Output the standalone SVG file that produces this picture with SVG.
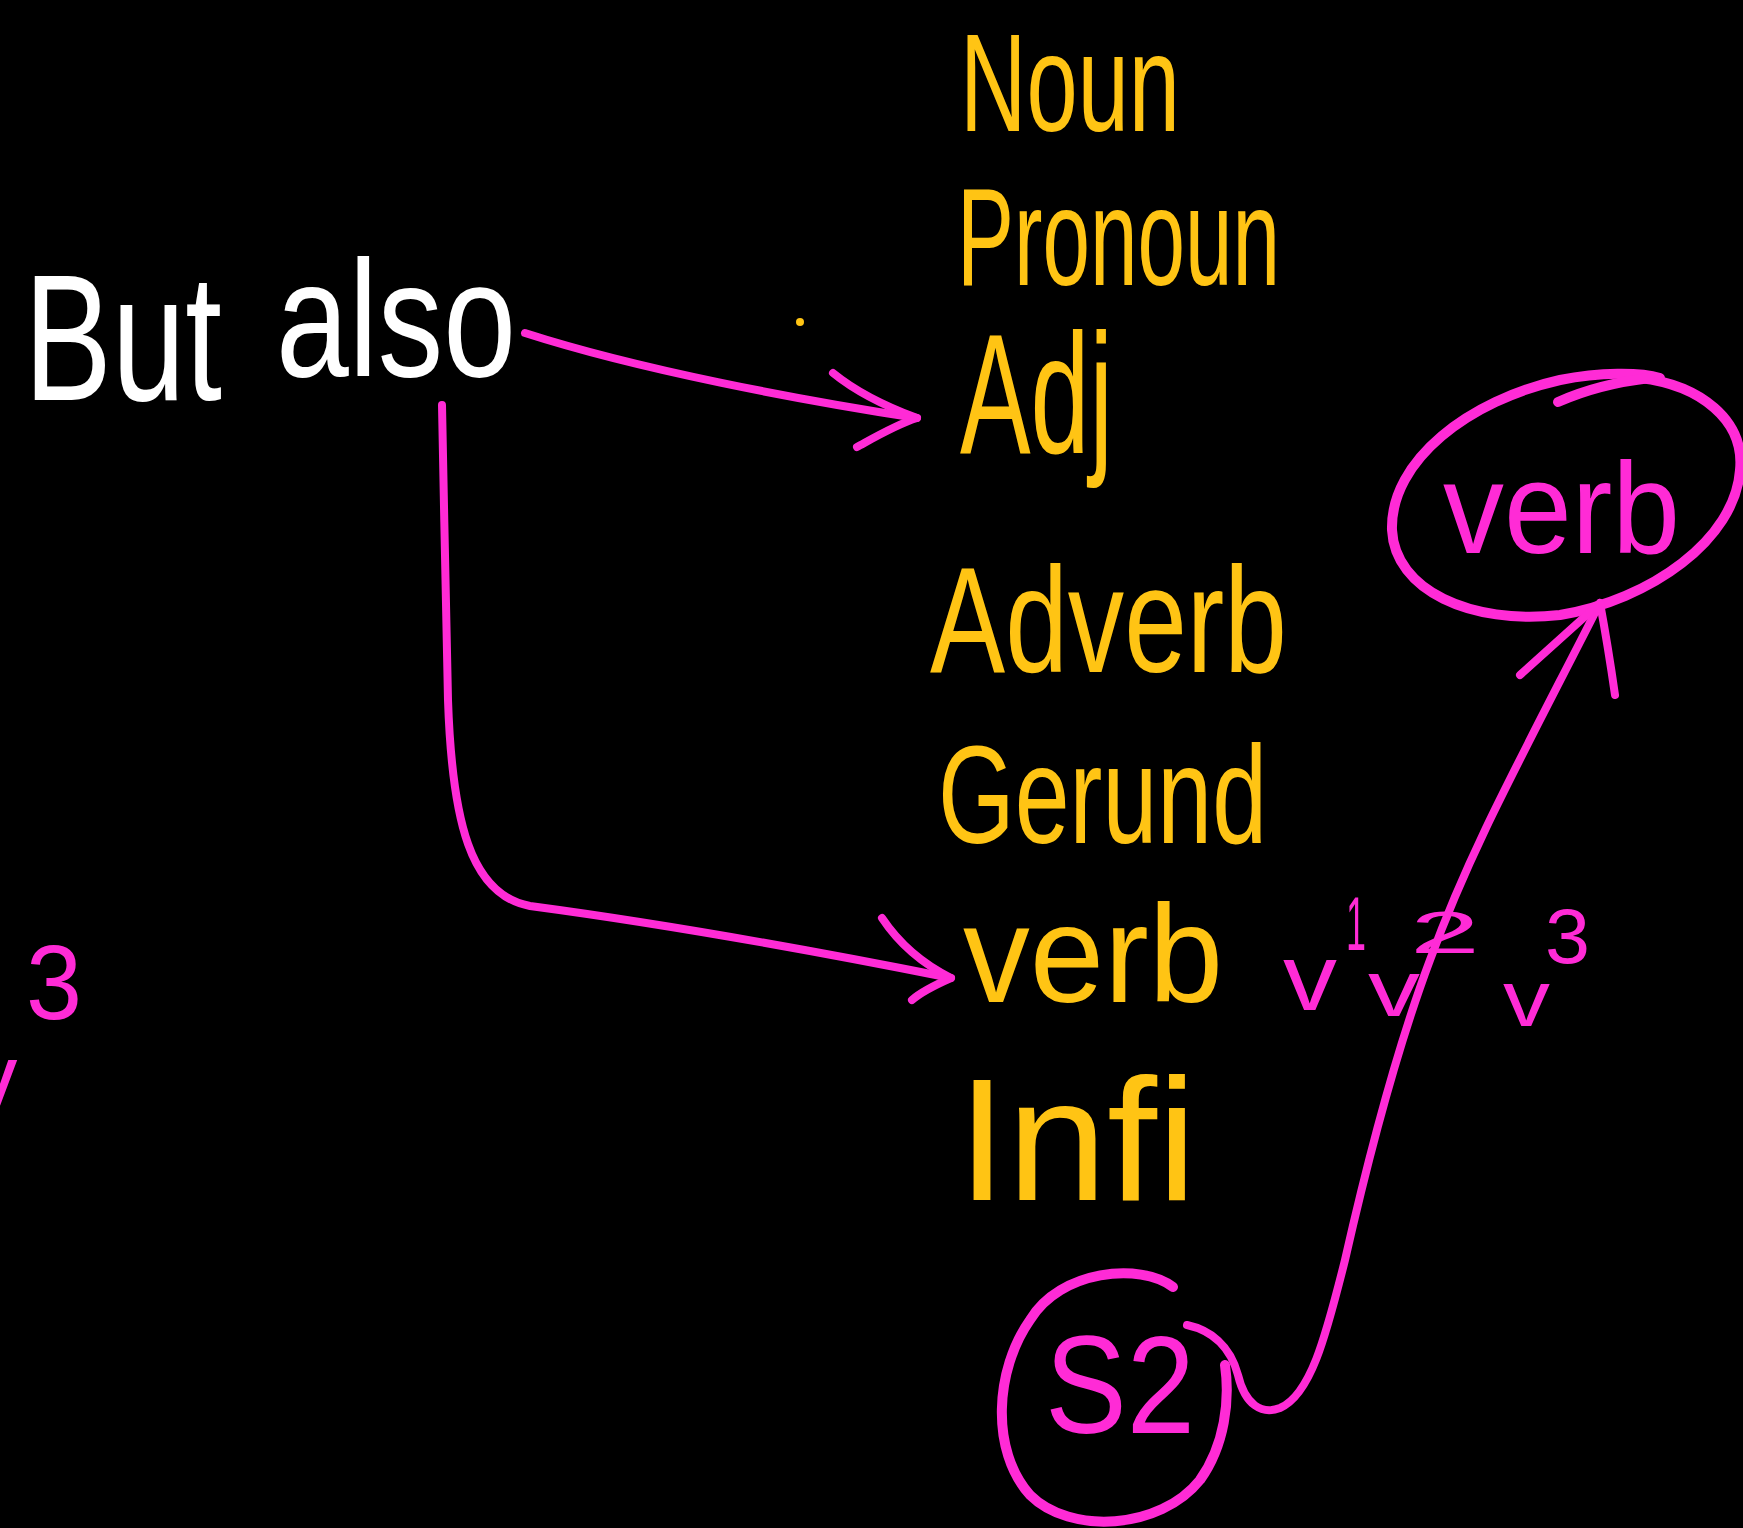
<svg xmlns="http://www.w3.org/2000/svg" width="1743" height="1528" viewBox="0 0 1743 1528">
<style>
text{font-family:"Liberation Sans","DejaVu Sans",sans-serif;}
.yel{fill:#ffc414;}
.mag{fill:#ff2bd6;}
.wht{fill:#ffffff;}
.conn{fill:none;stroke:#ff2bd6;stroke-width:8;stroke-linecap:round;stroke-linejoin:round;}
.ring{fill:none;stroke:#ff2bd6;stroke-width:10;stroke-linecap:round;}
</style>
<rect width="1743" height="1528" fill="#000"/>

<g id="but-also">
<text class="wht" x="24" y="400" font-size="180" textLength="198" lengthAdjust="spacingAndGlyphs">But</text>
<text class="wht" x="276" y="376" font-size="165" textLength="240" lengthAdjust="spacingAndGlyphs">also</text>
</g>

<g id="noun"><text class="yel" x="960" y="131" font-size="140" textLength="220" lengthAdjust="spacingAndGlyphs">Noun</text></g>
<g id="pronoun"><text class="yel" x="957" y="285" font-size="140" textLength="323" lengthAdjust="spacingAndGlyphs">Pronoun</text></g>
<g id="adj"><text class="yel" x="960" y="453" font-size="170" textLength="153" lengthAdjust="spacingAndGlyphs">Adj</text></g>
<g id="adverb"><text class="yel" x="930" y="672" font-size="150" textLength="357" lengthAdjust="spacingAndGlyphs">Adverb</text></g>
<g id="gerund"><text class="yel" x="938" y="843" font-size="140" textLength="329" lengthAdjust="spacingAndGlyphs">Gerund</text></g>
<g id="verb"><text class="yel" x="963" y="1002" font-size="140" textLength="260" lengthAdjust="spacingAndGlyphs">verb</text></g>
<g id="infi"><text class="yel" x="957" y="1200" font-size="175" textLength="240" lengthAdjust="spacingAndGlyphs">Infi</text></g>
<circle cx="800" cy="322" r="4" class="yel"/>

<g id="verb-forms">
<text class="mag" x="1283" y="1010" font-size="95" textLength="54" lengthAdjust="spacingAndGlyphs">v</text>
<text class="mag" x="1346" y="950" font-size="76" textLength="20" lengthAdjust="spacingAndGlyphs">1</text>
<text class="mag" x="1368" y="1016" font-size="80" textLength="52" lengthAdjust="spacingAndGlyphs">v</text>
<text class="mag" x="1410" y="953" font-size="60" textLength="70" lengthAdjust="spacingAndGlyphs">2</text>
<text class="mag" x="1503" y="1026" font-size="80" textLength="47" lengthAdjust="spacingAndGlyphs">v</text>
<text class="mag" x="1545" y="963" font-size="78" textLength="45" lengthAdjust="spacingAndGlyphs">3</text>
</g>

<g id="left-note">
<text class="mag" x="26" y="1019" font-size="105" textLength="56" lengthAdjust="spacingAndGlyphs">3</text>
<text class="mag" x="-30" y="1110" font-size="95">v</text>
</g>

<g id="verb-circled">
<path class="ring" d="M1640,378 C1700,385 1745,420 1740,470 C1735,540 1650,600 1560,615 C1470,625 1395,590 1392,530 C1390,460 1470,400 1560,380 C1600,372 1640,372 1660,378"/>
<path class="ring" d="M1558,402 C1585,390 1615,382 1650,378" stroke-width="8"/>
<text class="mag" x="1443" y="553" font-size="130" textLength="237" lengthAdjust="spacingAndGlyphs">verb</text>
</g>

<g id="s2">
<path class="ring" stroke-width="9" d="M1173,1287 C1140,1262 1060,1270 1030,1320 C995,1370 990,1450 1030,1495 C1070,1535 1160,1530 1200,1480 C1225,1445 1230,1400 1225,1365"/>
<text class="mag" x="1045" y="1433" font-size="140" textLength="150" lengthAdjust="spacingAndGlyphs">S2</text>
</g>

<g id="connectors">
<path class="conn" d="M525,333 C640,370 800,400 917,418"/>
<path class="conn" d="M833,373 C860,395 890,408 917,418 C895,425 870,440 857,447"/>
<path class="conn" d="M442,405 C444,500 446,620 448,700 C452,820 470,895 530,906 C620,918 760,940 951,978"/>
<path class="conn" d="M882,918 C900,945 925,965 951,978 C935,985 920,993 912,1000"/>
<path class="conn" d="M1187,1325 C1210,1330 1230,1345 1238,1375 C1245,1405 1262,1415 1280,1408 C1310,1395 1325,1340 1345,1260 C1370,1150 1400,1040 1430,960 C1470,850 1520,760 1600,603"/>
<path class="conn" d="M1520,675 L1600,603 C1605,630 1610,660 1615,695"/>
</g>
</svg>
